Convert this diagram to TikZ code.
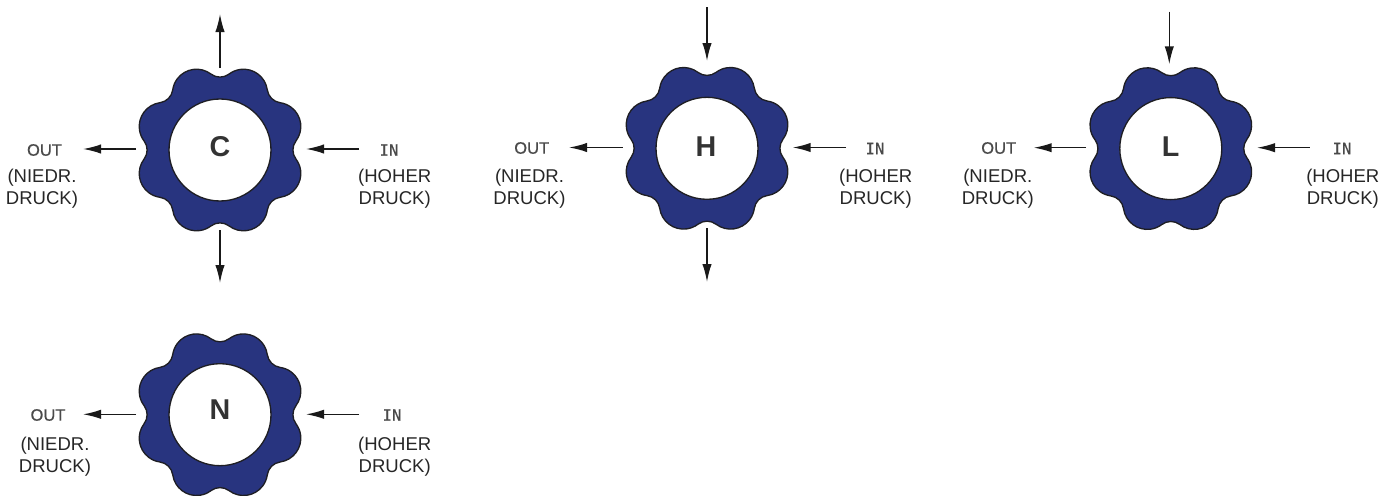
\documentclass[tikz,border=0pt]{standalone}
\usepackage{fontspec}
\usetikzlibrary{arrows.meta}
\setmainfont{Liberation Sans}
\newfontfamily\tagfont[FakeBold=0.4]{Liberation Sans}
\newfontfamily\infont[FakeBold=0.4]{DejaVu Sans Mono}
\definecolor{ringblue}{HTML}{28347F}
\definecolor{ringline}{HTML}{1E1E24}
\definecolor{tagtext}{HTML}{4A4A4A}
\definecolor{bodytext}{HTML}{262626}
\definecolor{lettertext}{HTML}{333333}
\tikzset{
  x=0.75pt,y=-0.75pt,
  gearbody/.style={fill=ringblue,draw=ringline,line width=1pt,line join=round},
  borecircle/.style={circle,fill=white,draw=ringline,line width=1pt,minimum size=76.5pt,inner sep=0pt},
  lettertag/.style={inner sep=0pt,text=lettertext,font=\fontsize{21.5}{22}\selectfont\bfseries},
  flowarrow/.style={draw=black!90,line width=1.1pt,-{Latex[length=13.5pt,width=7pt]}},
  outtag/.style={inner sep=0pt,text=tagtext,font=\tagfont\fontsize{12.4}{14}\selectfont},
  intag/.style={inner sep=0pt,text=tagtext,font=\infont\fontsize{11.8}{14}\selectfont},
  presstag/.style={inner sep=0pt,align=center,text=bodytext,font=\fontsize{13.9}{16.2}\selectfont}
}
% name, centre x, centre y, letter, letter x, letter y
\newcommand{\gearunit}[6]{%
  \begin{scope}[shift={(#2,#3)},y=0.75pt]
    \path[gearbody] ({87.92+15*cos(217.1)},{15*sin(217.1)})
      \foreach \k [evaluate=\k as \fa using 217.1+45*\k,
                   evaluate=\k as \fb using 142.9+45*\k,
                   evaluate=\k as \la using -37.1+45*\k,
                   evaluate=\k as \lb using 82.1+45*\k] in {0,...,7} {
        arc[start angle=\fa,end angle=\fb,radius=15]
        arc[start angle=\la,end angle=\lb,radius=24]
      } -- cycle;
  \end{scope}
  \node[borecircle] (#1bore) at (#2,#3) {};
  \node[lettertag] (#1letter) at (#5,#6) {#4};
}
% name, y, from x, to x
\newcommand{\flowh}[4]{%
  \coordinate (#1a) at (#3,#2);
  \coordinate (#1b) at (#4,#2);
  \draw[flowarrow] (#1a) -- (#1b);
}
% name, x, from y, to y
\newcommand{\flowv}[4]{%
  \coordinate (#1a) at (#2,#3);
  \coordinate (#1b) at (#2,#4);
  \draw[flowarrow] (#1a) -- (#1b);
}
\begin{document}
\begin{tikzpicture}
\useasboundingbox (0,0) rectangle (1397,496);
% C
\gearunit{c}{220}{150}{C}{220}{146.7}
\flowv{ctop}{220}{68}{14}
\flowv{cbot}{220}{230}{283}
\flowh{cleft}{149}{136}{83}
\flowh{cright}{149}{359}{306}
\node[outtag] (cout) at (44.5,150) {OUT};
\node[intag] (cin) at (389,150) {IN};
\node[presstag] (clow) at (42,188.5) {(NIEDR.\\DRUCK)};
\node[presstag] (chigh) at (394.7,188.5) {(HOHER\\DRUCK)};
% H
\gearunit{h}{707}{148.3}{H}{706}{146.7}
\flowv{htop}{707}{7}{61}
\flowv{hbot}{707}{228}{282}
\flowh{hleft}{147.5}{622.7}{569}
\flowh{hright}{147.5}{846}{792.7}
\node[outtag] (hout) at (531.7,148) {OUT};
\node[intag] (hin) at (875,148.5) {IN};
\node[presstag] (hlow) at (529.5,188.5) {(NIEDR.\\DRUCK)};
\node[presstag] (hhigh) at (875.7,188.5) {(HOHER\\DRUCK)};
% L
\gearunit{l}{1170.8}{148.6}{L}{1170.7}{147}
\flowv{ltop}{1169.3}{11.7}{64.3}
\flowh{lleft}{147.7}{1086}{1033.7}
\flowh{lright}{147.7}{1309.7}{1257}
\node[outtag] (lout) at (998.7,148) {OUT};
\node[intag] (lin) at (1342,148.5) {IN};
\node[presstag] (llow) at (997.8,188.5) {(NIEDR.\\DRUCK)};
\node[presstag] (lhigh) at (1342.8,188.5) {(HOHER\\DRUCK)};
% N
\gearunit{n}{220}{414.7}{N}{220}{410}
\flowh{nleft}{414.3}{136}{83}
\flowh{nright}{414.3}{359}{306}
\node[outtag] (nout) at (48,415) {OUT};
\node[intag] (nin) at (392,415) {IN};
\node[presstag] (nlow) at (55,456.5) {(NIEDR.\\DRUCK)};
\node[presstag] (nhigh) at (394.7,456.5) {(HOHER\\DRUCK)};
\end{tikzpicture}
\end{document}
